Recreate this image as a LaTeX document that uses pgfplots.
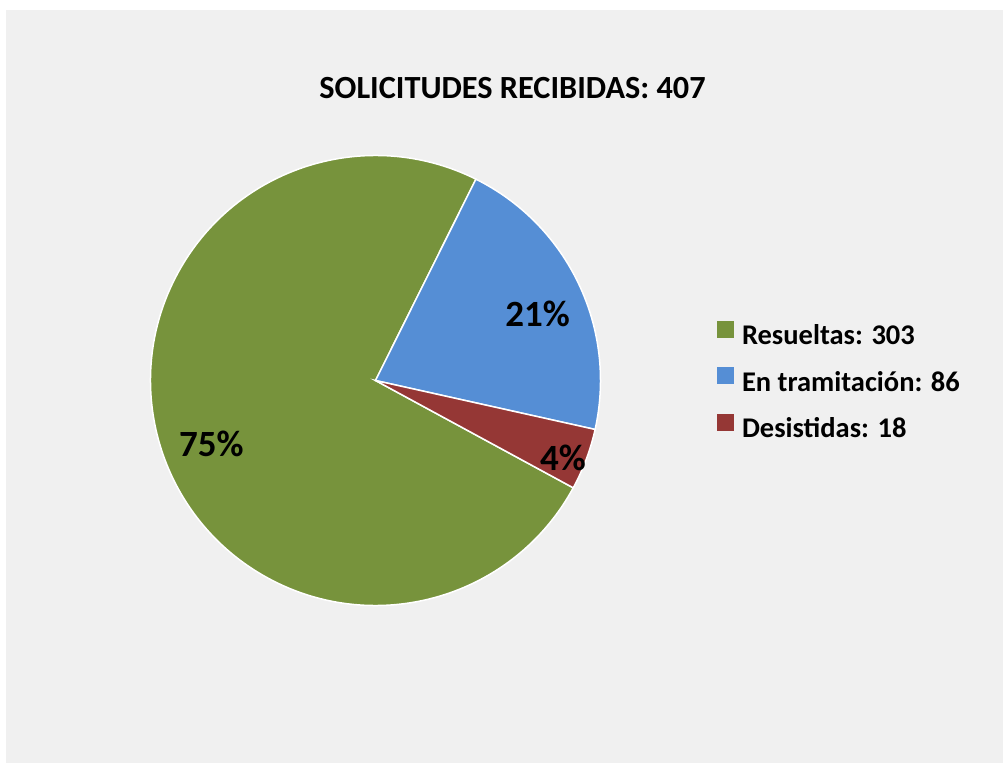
\documentclass[border=0pt]{standalone}
\usepackage{pgfplots}
\pgfplotsset{compat=1.18}
\usepackage{pgfplotstable}
\usepackage{fontspec}
\setmainfont{Carlito}
\definecolor{cgreen}{HTML}{77933C}
\definecolor{cblue}{HTML}{558ED5}
\definecolor{cred}{HTML}{953735}
\definecolor{bg}{HTML}{F0F0F0}
\pgfplotstableread[col sep=comma]{
name,value
Resueltas,303
En tramitacion,86
Desistidas,18
}\datatable
\begin{document}
\begin{tikzpicture}
\pgfplotstablegetelem{0}{value}\of\datatable \let\vA\pgfplotsretval
\pgfplotstablegetelem{1}{value}\of\datatable \let\vB\pgfplotsretval
\pgfplotstablegetelem{2}{value}\of\datatable \let\vC\pgfplotsretval
\pgfmathsetmacro{\total}{\vA+\vB+\vC}
\pgfmathsetmacro{\aA}{-28.5}
\pgfmathsetmacro{\aB}{\aA-360*(\vA/\total)}
\pgfmathsetmacro{\aC}{\aB-360*(\vB/\total)}
\pgfmathsetmacro{\aD}{\aC-360*(\vC/\total)}
\begin{axis}[
  x=1pt, y=1pt, xmin=0, xmax=1003, ymin=0, ymax=763,
  hide axis, clip=false, scale only axis,
  legend cell align=left,
  legend image code/.code={\fill[#1, draw=none] (0pt,0pt) rectangle (17pt,17pt);},
  legend style={at={(axis cs:717,380.7)}, anchor=west, draw=none, fill=none,
    inner sep=0pt, outer sep=0pt,
    font=\bfseries\fontsize{28.5}{34}\selectfont, row sep=16.5pt,
    nodes={inner sep=0pt, text height=20pt, text depth=6pt, outer sep=0pt},
    column sep=8pt},
]
\fill[white] (axis cs:0,0) rectangle (axis cs:1003,763);
\fill[bg] (axis cs:6,0) rectangle (axis cs:1003,753);
\fill[cgreen, draw=white, line width=1.5pt] (axis cs:375.5,382.5) -- ++(\aA:225pt) arc[start angle=\aA, end angle=\aB, radius=225pt] -- cycle;
\fill[cblue, draw=white, line width=1.5pt] (axis cs:375.5,382.5) -- ++(\aB:225pt) arc[start angle=\aB, end angle=\aC, radius=225pt] -- cycle;
\fill[cred, draw=white, line width=1.5pt] (axis cs:375.5,382.5) -- ++(\aC:225pt) arc[start angle=\aC, end angle=\aD, radius=225pt] -- cycle;
\addlegendimage{fill=cgreen}
\addlegendentry{Resueltas: 303}
\addlegendimage{fill=cblue}
\addlegendentry{En tramitación: 86}
\addlegendimage{fill=cred}
\addlegendentry{Desistidas: 18}
\node[font=\bfseries\fontsize{32.3}{38}\selectfont, inner sep=0pt] at (axis cs:512.5,675) {SOLICITUDES RECIBIDAS: 407};
\node[font=\bfseries\fontsize{37}{44}\selectfont, inner sep=0pt] at (axis cs:211.3,318.7) {75\%};
\node[font=\bfseries\fontsize{37}{44}\selectfont, inner sep=0pt] at (axis cs:537.7,449.2) {21\%};
\node[font=\bfseries\fontsize{37}{44}\selectfont, inner sep=0pt] at (axis cs:563,305) {4\%};
\end{axis}
\end{tikzpicture}
\end{document}
